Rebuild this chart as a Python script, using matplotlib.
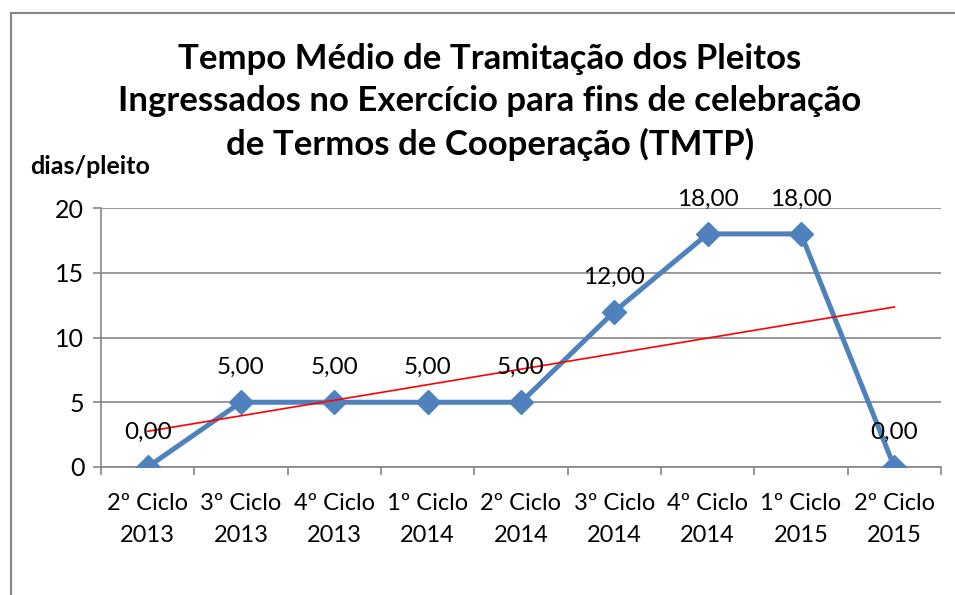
import numpy as np
import matplotlib.pyplot as plt
from matplotlib.patches import Rectangle

# data
categories = ["2º Ciclo\n2013", "3º Ciclo\n2013", "4º Ciclo\n2013", "1º Ciclo\n2014",
              "2º Ciclo\n2014", "3º Ciclo\n2014", "4º Ciclo\n2014", "1º Ciclo\n2015",
              "2º Ciclo\n2015"]
tmtp = [0, 5, 5, 5, 5, 12, 18, 18, 0]
yticks = [0, 5, 10, 15, 20]

plt.rcParams['font.family'] = ['Lato', 'DejaVu Sans']

fig = plt.figure(figsize=(9.55, 5.95), dpi=100)
W, H = 955, 595
ax = fig.add_axes([101 / W, 1 - 467 / H, 840 / W, (467 - 208) / H])

x = np.arange(len(categories))
ax.plot(x, tmtp, color='#4F81BD', lw=3.6, marker='D', ms=12, zorder=3)

# linear trend line (as in the spreadsheet chart)
slope, intercept = np.polyfit(x, tmtp, 1)
ax.plot(x, slope * x + intercept, color='red', lw=1.2, zorder=4)

for xi, v in zip(x, tmtp):
    ax.annotate(f"{v:.2f}".replace('.', ','), (xi, v), xytext=(0, 25),
                textcoords='offset points', ha='center', va='center', fontsize=17.5, zorder=5)

ax.set_xlim(-0.5, len(categories) - 0.5)
ax.set_ylim(0, 20)
ax.set_yticks(yticks)
ax.set_xticks(x)
ax.set_xticklabels(categories, fontsize=17, linespacing=1.65)
ax.set_xticks(np.arange(-0.5, len(categories)), minor=True)
ax.tick_params(axis='x', which='major', length=0, pad=19)
ax.tick_params(axis='x', which='minor', length=6, color='#868686', width=1.2)
ax.tick_params(axis='y', labelsize=18, length=6, color='#868686', width=1.2, pad=6)
ax.yaxis.grid(True, color='#868686', lw=1.2)
ax.set_axisbelow(True)
for s in ['top', 'right']:
    ax.spines[s].set_visible(False)
for s in ['left', 'bottom']:
    ax.spines[s].set_color('#868686')
    ax.spines[s].set_linewidth(1.2)

fig.text(490 / W, 1 - 102 / H,
         "Tempo Médio de Tramitação dos Pleitos\nIngressados no Exercício para fins de celebração\nde Termos de Cooperação (TMTP)",
         ha='center', va='center', fontsize=25, fontweight='bold', linespacing=1.4)
fig.text(30 / W, 1 - 167 / H, "dias/pleito", ha='left', va='center', fontsize=18, fontweight='bold')

# chart frame, cut off at right and bottom like the screenshot
fig.patches.append(Rectangle((11 / W, -0.1), 1.2, 1.1 - 13 / H, transform=fig.transFigure,
                             fill=False, edgecolor='#868686', lw=1.5))

plt.savefig("out.png", dpi=100)
